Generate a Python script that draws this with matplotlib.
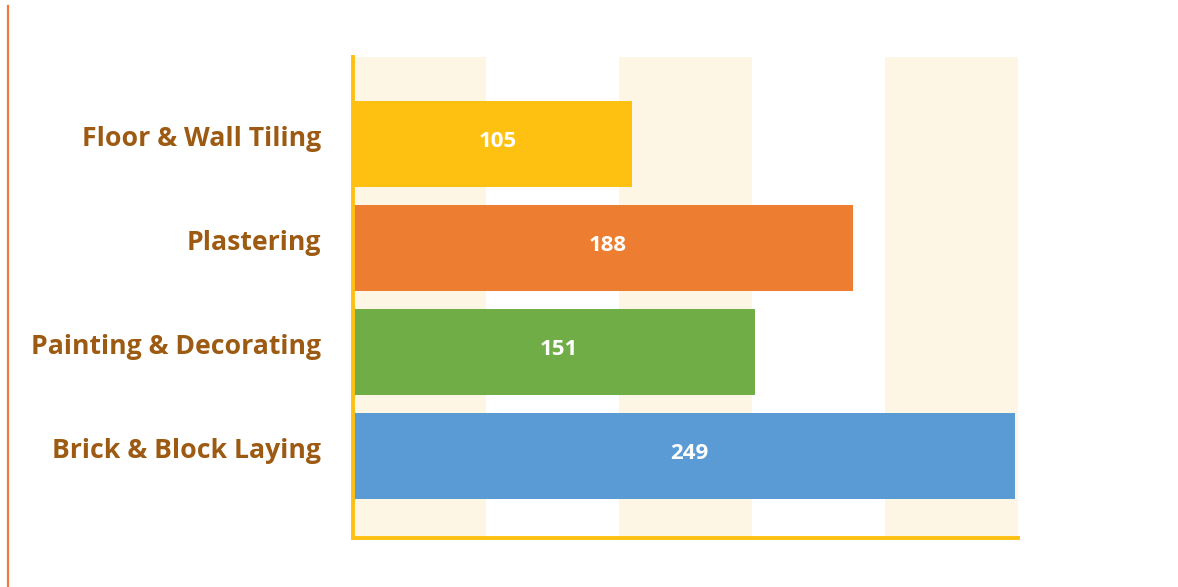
import matplotlib
matplotlib.use("Agg")
import matplotlib.pyplot as plt
from matplotlib.lines import Line2D
from matplotlib.transforms import ScaledTranslation

categories = ["Floor & Wall Tiling", "Plastering", "Painting & Decorating", "Brick & Block Laying"]
values = [105, 188, 151, 249]
bar_colors = ["#FEC112", "#ED7D31", "#70AD47", "#5B9BD5"]
band_starts = [0, 100, 200]
band_width = 50

plt.rcParams['font.family'] = ['Open Sans', 'DejaVu Sans']

fig = plt.figure(figsize=(11.78, 5.87), dpi=100)
ax = fig.add_axes([353/1178, 49/587, 665/1178, 481/587])

for s in band_starts:
    ax.axvspan(s, s + band_width, color="#FDF6E5", zorder=0, lw=0)

ypos = list(range(len(categories)))
bars = ax.barh(ypos, values, height=0.83, color=bar_colors, zorder=2)
for y, v in zip(ypos, values):
    ax.annotate(str(v), (v / 2, y), xytext=(3.5, 2), textcoords="offset points",
                ha="center", va="center", color="white",
                fontsize=16, fontweight="bold", zorder=3)

ax.set_xlim(0, 250)
ax.set_ylim(3.79, -0.84)
ax.set_yticks(ypos)
ax.set_yticklabels(categories, fontsize=19.2, fontweight="bold", color="#9C5A12")
ax.tick_params(axis="y", length=0, pad=23)
ax.set_xticks([])
shift = ScaledTranslation(0, 0.08, fig.dpi_scale_trans)
for lab in ax.get_yticklabels():
    lab.set_transform(lab.get_transform() + shift)

for side in ["top", "right"]:
    ax.spines[side].set_visible(False)
for side in ["left", "bottom"]:
    ax.spines[side].set_color("#FFC012")
    ax.spines[side].set_linewidth(2.8)

fig.add_artist(Line2D([8/1178, 8/1178], [0, 1 - 6/587], transform=fig.transFigure,
                      color="#F07A3E", lw=1.6))

fig.savefig("out.png", dpi=100, facecolor="white")
